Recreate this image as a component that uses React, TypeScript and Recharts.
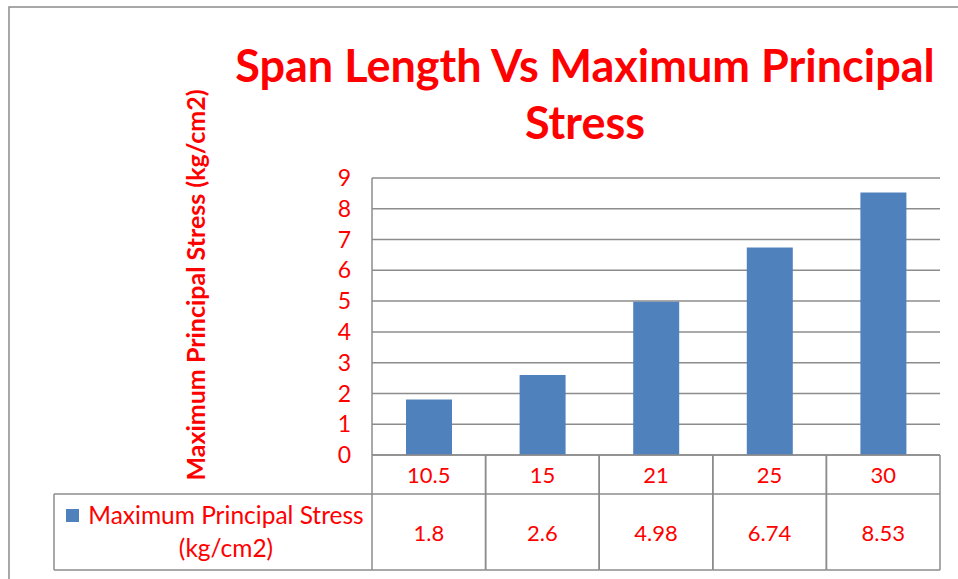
import React from 'react';
import { ComposedChart, Bar, XAxis, YAxis, CartesianGrid, Customized } from 'recharts';

const spans = ['10.5', '15', '21', '25', '30'];
const stress = [1.8, 2.6, 4.98, 6.74, 8.53];
const yTicks = [0, 1, 2, 3, 4, 5, 6, 7, 8, 9];
const seriesName = 'Maximum Principal Stress';
const seriesUnit = '(kg/cm2)';
const titleLines = ['Span Length Vs Maximum Principal', 'Stress'];
const yLabel = 'Maximum Principal Stress (kg/cm2)';

const data = spans.map((s, i) => ({ span: s, value: stress[i] }));

const W = 958;
const H = 579;
const PLOT_L = 372;
const PLOT_R = 940;
const PLOT_T = 178;
const PLOT_B = 455;
const ROW1_B = 494;
const ROW2_B = 570;
const TABLE_L = 54;
const BAND = (PLOT_R - PLOT_L) / spans.length;
const RED = '#FF0000';
const GRID = '#8c8c8c';
const FONT = 'Lato, "Open Sans", sans-serif';

const TableTick = (props: any) => {
  const { x, payload, index } = props;
  const half = BAND / 2;
  return (
    <g>
      <line x1={x - half} x2={x - half} y1={PLOT_B} y2={ROW2_B} stroke={GRID} strokeWidth={1.5} />
      <line x1={x + half} x2={x + half} y1={PLOT_B} y2={ROW2_B} stroke={GRID} strokeWidth={1.5} />
      <line x1={x - half} x2={x + half} y1={ROW1_B} y2={ROW1_B} stroke={GRID} strokeWidth={1.5} />
      <line x1={x - half} x2={x + half} y1={ROW2_B} y2={ROW2_B} stroke={GRID} strokeWidth={1.5} />
      <text x={x} y={483} textAnchor="middle" fill={RED} fontSize={22} fontFamily={FONT}>
        {payload.value}
      </text>
      <text x={x} y={541} textAnchor="middle" fill={RED} fontSize={22} fontFamily={FONT}>
        {stress[index]}
      </text>
    </g>
  );
};

const Decor = () => (
  <g>
    <rect x={9} y={7} width={W} height={H} fill="none" stroke={GRID} strokeWidth={1.5} />
    <text textAnchor="middle" fill={RED} fontSize={45} fontWeight="bold" fontFamily={FONT}>
      <tspan x={585} y={82}>{titleLines[0]}</tspan>
      <tspan x={585} y={139}>{titleLines[1]}</tspan>
    </text>
    <text
      transform="translate(205,285) rotate(-90)"
      textAnchor="middle"
      fill={RED}
      fontSize={25}
      fontWeight="bold"
      fontFamily={FONT}
    >
      {yLabel}
    </text>
    <line x1={TABLE_L} x2={PLOT_L} y1={ROW1_B} y2={ROW1_B} stroke={GRID} strokeWidth={1.5} />
    <line x1={TABLE_L} x2={PLOT_L} y1={ROW2_B} y2={ROW2_B} stroke={GRID} strokeWidth={1.5} />
    <line x1={TABLE_L} x2={TABLE_L} y1={ROW1_B} y2={ROW2_B} stroke={GRID} strokeWidth={1.5} />
    <rect x={66} y={509} width={13} height={13} fill="#4F81BD" />
    <text textAnchor="middle" fill={RED} fontSize={24.5} fontFamily={FONT}>
      <tspan x={226} y={524}>{seriesName}</tspan>
      <tspan x={226} y={557}>{seriesUnit}</tspan>
    </text>
  </g>
);

export default function App() {
  return (
    <div style={{ position: 'absolute', left: 0, top: 0 }}>
      <ComposedChart
        width={W}
        height={H}
        data={data}
        margin={{ top: PLOT_T, right: W - PLOT_R, bottom: 0, left: 0 }}
      >
        <CartesianGrid vertical={false} stroke={GRID} strokeWidth={1.5} />
        <XAxis
          dataKey="span"
          axisLine={{ stroke: GRID, strokeWidth: 1.5 }}
          tickLine={false}
          tick={<TableTick />}
          interval={0}
          height={H - PLOT_B}
        />
        <YAxis
          width={PLOT_L}
          domain={[0, 9]}
          ticks={yTicks}
          interval={0}
          axisLine={{ stroke: GRID, strokeWidth: 1.5 }}
          tickLine={false}
          tick={{ fill: RED, fontSize: 23, fontFamily: FONT }}
          tickMargin={15}
        />
        <Bar dataKey="value" fill="#4F81BD" barSize={46} isAnimationActive={false} />
        <Customized component={Decor} />
      </ComposedChart>
    </div>
  );
}
